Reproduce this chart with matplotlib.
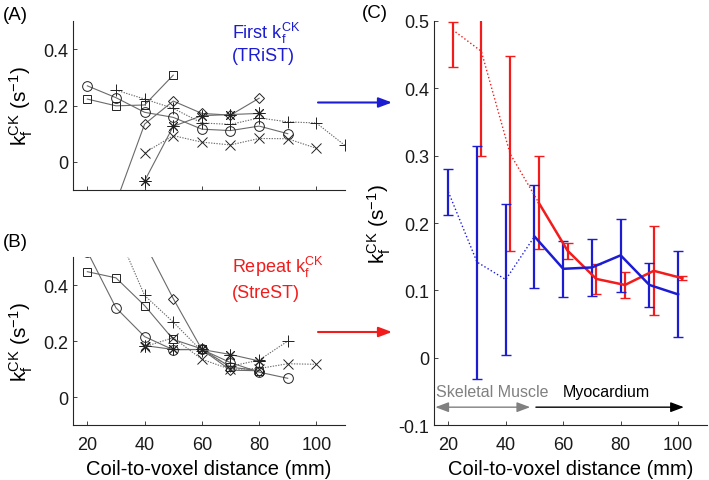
import numpy as np
import matplotlib
matplotlib.use("Agg")
import matplotlib.pyplot as plt

plt.rcParams['font.family'] = ['Liberation Sans', 'DejaVu Sans']
plt.rcParams['mathtext.fontset'] = 'custom'
plt.rcParams['mathtext.rm'] = 'Liberation Sans'
plt.rcParams['mathtext.it'] = 'Liberation Sans:italic'

BLUE = "#1c1cd2"
RED = "#f21c1c"
AXIS_COLOR = "#262626"

# ---- panel A: first kf per subject (TRiST)
a_circle_x = [20, 30, 40, 50, 60, 70, 80, 90]
a_circle = [0.270, 0.228, 0.176, 0.158, 0.116, 0.111, 0.127, 0.100]
a_plus_x = [30, 40, 50, 60, 70, 80, 90, 100, 110]
a_plus = [0.255, 0.223, 0.190, 0.138, 0.133, 0.156, 0.142, 0.138, 0.058]
a_square_x = [20, 30, 40, 50]
a_square = [0.223, 0.199, 0.202, 0.308]
a_diamond_x = [30, 40, 50, 60, 70, 80]
a_diamond = [-0.145, 0.134, 0.216, 0.172, 0.166, 0.226]
a_star_x = [40, 50, 60, 70, 80]
a_star = [-0.068, 0.126, 0.164, 0.168, 0.172]
a_cross_x = [40, 50, 60, 70, 80, 90, 100]
a_cross = [0.032, 0.093, 0.070, 0.060, 0.083, 0.082, 0.048]

# ---- panel B: repeat kf per subject (StreST)
b_circle_x = [20, 30, 40, 50, 60, 70, 80, 90]
b_circle = [0.520, 0.319, 0.216, 0.169, 0.170, 0.123, 0.089, 0.067]
b_plus_x = [30, 40, 50, 60, 70, 80, 90]
b_plus = [0.600, 0.363, 0.268, 0.164, 0.110, 0.132, 0.200]
b_square_x = [20, 30, 40, 50, 60, 70, 80]
b_square = [0.448, 0.426, 0.327, 0.206, 0.172, 0.107, 0.094]
b_diamond_x = [40, 50, 60, 70, 80]
b_diamond = [0.550, 0.352, 0.170, 0.096, 0.094]
b_star_x = [40, 50, 60, 70, 80]
b_star = [0.184, 0.170, 0.170, 0.152, 0.129]
b_cross_x = [40, 50, 60, 70, 80, 90, 100]
b_cross = [0.180, 0.212, 0.135, 0.099, 0.102, 0.119, 0.117]

# ---- panel C: mean +- sd
c_x = [20, 30, 40, 50, 60, 70, 80, 90, 100]
c_blue = [0.2465, 0.142, 0.116, 0.180, 0.132, 0.134, 0.152, 0.108, 0.094]
c_blue_err = [0.034, 0.173, 0.112, 0.076, 0.042, 0.042, 0.054, 0.032, 0.064]
c_red = [0.487, 0.455, 0.303, 0.230, 0.159, 0.117, 0.108, 0.129, 0.118]
c_red_lo = [0.055, 0.155, 0.145, 0.069, 0.012, 0.022, 0.019, 0.066, 0.003]
c_red_hi = [0.012, 0.155, 0.145, 0.069, 0.012, 0.022, 0.019, 0.066, 0.003]
red_shift = 1.5

AST = (8, 2, 0)
MARKERS = [("o", 7), ("+", 8.5), ("s", 5.5), ("D", 5.5), (AST, 8.5), ("x", 6.5)]
DOT = (0, (1.2, 1.2))
STYLES = ["-", DOT, "-", "-", "-", DOT]


def style_axes(ax, ylim, yticks, labels=True):
    ax.set_xlim(15, 110)
    ax.set_ylim(*ylim)
    ax.set_xticks([20, 40, 60, 80, 100])
    ax.set_yticks(yticks)
    for s in ["top", "right"]:
        ax.spines[s].set_visible(False)
    for s in ["left", "bottom"]:
        ax.spines[s].set_color(AXIS_COLOR)
        ax.spines[s].set_linewidth(0.8)
    ax.tick_params(direction="in", length=3, width=0.6, colors=AXIS_COLOR,
                   labelsize=13, labelcolor="#1a1a1a")
    ax.tick_params(axis="x", pad=8)
    if not labels:
        ax.tick_params(labelbottom=False)


def draw_subjects(ax, series):
    for (xs, ys), (m, ms), ls in zip(series, MARKERS, STYLES):
        ax.plot(xs, ys, linestyle=ls, color="#6a6a6a", linewidth=0.8,
                marker=m, markersize=ms, markerfacecolor="none",
                markeredgecolor="#222222", markeredgewidth=0.7)


fig = plt.figure(figsize=(7.09, 4.81), dpi=100)
axA = fig.add_axes([0.103, 0.603, 0.3836, 0.351])
axB = fig.add_axes([0.103, 0.1143, 0.3836, 0.349])
axC = fig.add_axes([0.612, 0.1143, 0.385, 0.84])

draw_subjects(axA, [(a_circle_x, a_circle), (a_plus_x, a_plus), (a_square_x, a_square),
                    (a_diamond_x, a_diamond), (a_star_x, a_star), (a_cross_x, a_cross)])
draw_subjects(axB, [(b_circle_x, b_circle), (b_plus_x, b_plus), (b_square_x, b_square),
                    (b_diamond_x, b_diamond), (b_star_x, b_star), (b_cross_x, b_cross)])

ylab = r"$\mathregular{k_f^{CK}}$ (s$^{\mathregular{-1}}$)"
style_axes(axA, (-0.1, 0.5), [0, 0.2, 0.4], labels=False)
style_axes(axB, (-0.1, 0.5), [0, 0.2, 0.4])
axA.set_yticklabels(["0", "0.2", "0.4"])
axB.set_yticklabels(["0", "0.2", "0.4"])
axA.set_ylabel(ylab, fontsize=15, labelpad=6)
axB.set_ylabel(ylab, fontsize=15, labelpad=6)
axB.set_xlabel("Coil-to-voxel distance (mm)", fontsize=14.5, labelpad=4)

# panel C
cx = np.array(c_x, dtype=float)
rx = cx + red_shift
axC.errorbar(rx, c_red, yerr=[c_red_lo, c_red_hi], fmt="none", ecolor=RED,
             elinewidth=1.6, capsize=3.5, capthick=1.0)
axC.errorbar(cx, c_blue, yerr=c_blue_err, fmt="none", ecolor=BLUE,
             elinewidth=1.6, capsize=3.5, capthick=1.0)
axC.plot(rx[:4], c_red[:4], ":", color=RED, linewidth=1.0)
axC.plot(rx[3:], c_red[3:], "-", color=RED, linewidth=1.8)
axC.plot(cx[:4], c_blue[:4], ":", color=BLUE, linewidth=1.0)
axC.plot(cx[3:], c_blue[3:], "-", color=BLUE, linewidth=1.8)
style_axes(axC, (-0.1, 0.5), [-0.1, 0, 0.1, 0.2, 0.3, 0.4, 0.5])
axC.set_yticklabels(["-0.1", "0", "0.1", "0.2", "0.3", "0.4", "0.5"])
axC.set_ylabel(ylab, fontsize=15, labelpad=4)
axC.set_xlabel("Coil-to-voxel distance (mm)", fontsize=14.5, labelpad=4)

axC.annotate("", xy=(15.5, -0.0735), xytext=(48.5, -0.0735),
             arrowprops=dict(arrowstyle="<|-|>,head_length=0.8,head_width=0.3",
                             color="#808080", lw=1.0, shrinkA=0, shrinkB=0))
axC.annotate("", xy=(102, -0.0735), xytext=(50.5, -0.0735),
             arrowprops=dict(arrowstyle="-|>,head_length=0.8,head_width=0.3",
                             color="black", lw=1.0, shrinkA=0, shrinkB=0))
axC.text(35.4, -0.05, "Skeletal Muscle", color="#808080", fontsize=11.5,
         ha="center", va="center")
axC.text(75.1, -0.05, "Myocardium", color="black", fontsize=11.5,
         ha="center", va="center")

# panel letters
fig.text(3 / 709, 1 - 15 / 481, "(A)", fontsize=13.5, va="center", ha="left")
fig.text(3 / 709, 1 - 243 / 481, "(B)", fontsize=13.5, va="center", ha="left")
fig.text(362 / 709, 1 - 13 / 481, "(C)", fontsize=13.5, va="center", ha="left")

# labels between panels
fig.text(232 / 709, 1 - 33 / 481, r"First $\mathregular{k_f^{CK}}$", color=BLUE,
         fontsize=13, va="center", ha="left")
fig.text(232 / 709, 1 - 57 / 481, "(TRiST)", color=BLUE, fontsize=13,
         va="center", ha="left")
fig.text(232 / 709, 1 - 267 / 481, r"Repeat $\mathregular{k_f^{CK}}$", color=RED,
         fontsize=13, va="center", ha="left")
fig.text(232 / 709, 1 - 294 / 481, "(StreST)", color=RED, fontsize=13,
         va="center", ha="left")

for py, col in [(103.5, BLUE), (333, RED)]:
    yf = 1 - py / 481
    fig.add_artist(matplotlib.patches.FancyArrowPatch(
        (318 / 709, yf), (392 / 709, yf), transform=fig.transFigure,
        arrowstyle="-|>,head_length=0.8,head_width=0.3", mutation_scale=10,
        color=col, lw=1.5, shrinkA=0, shrinkB=0))

fig.savefig("out.png", dpi=100)
